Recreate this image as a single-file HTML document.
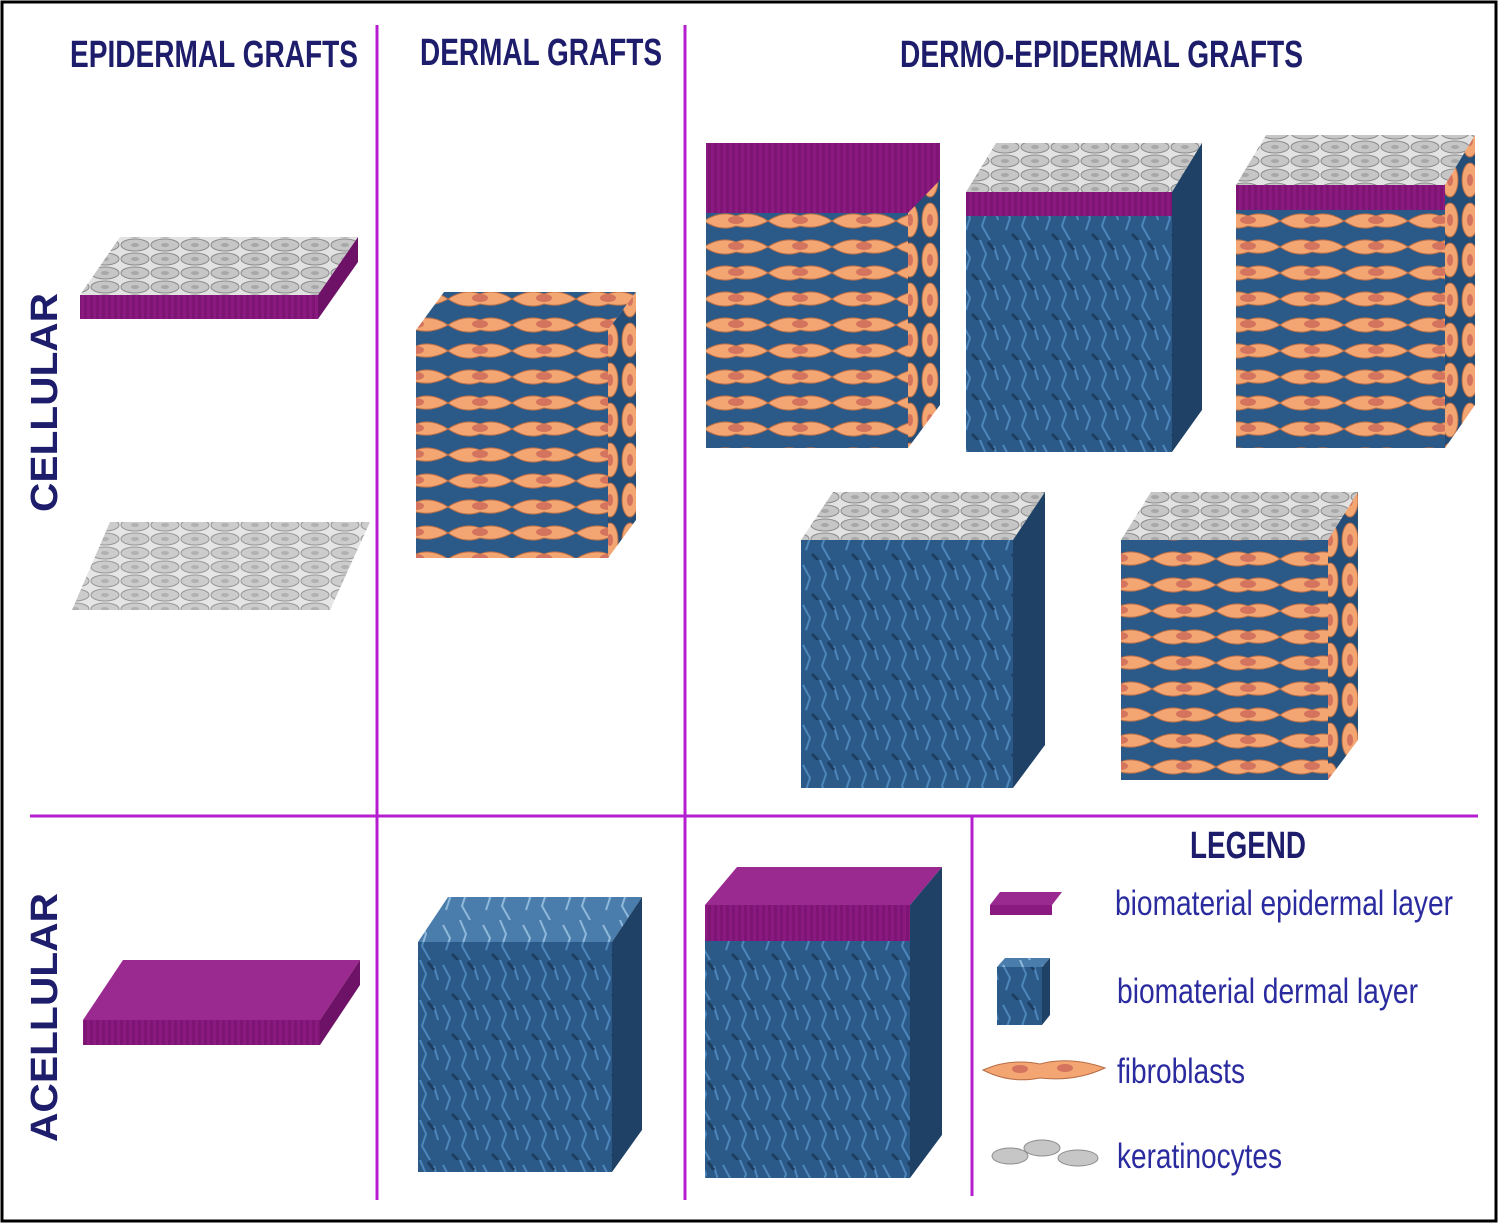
<!DOCTYPE html>
<html><head><meta charset="utf-8"><style>
html,body{margin:0;padding:0;background:#fff}
svg{display:block}
text{font-family:"Liberation Sans",sans-serif}
.t{font-weight:bold;font-size:38px;fill:#1d1d6b}
.l{font-size:35px;fill:#2b2ba0}
</style></head><body>
<svg width="1500" height="1227" viewBox="0 0 1500 1227" xmlns="http://www.w3.org/2000/svg">
<defs>
<pattern id="blue" patternUnits="userSpaceOnUse" width="40" height="40">
<rect width="40" height="40" fill="#2c5a88"/>
<path d="M3 5 L10 18 L6 30 M20 0 L26 14 L22 26 L30 40 M34 6 L38 20" stroke="#4d86bb" stroke-width="2" fill="none"/>
<path d="M12 34 L18 40 M28 2 L34 10" stroke="#1c3d60" stroke-width="3" fill="none"/>
</pattern>
<pattern id="blueL" patternUnits="userSpaceOnUse" width="40" height="40">
<rect width="40" height="40" fill="#4a7dab"/>
<path d="M3 5 L10 18 L6 30 M20 0 L26 14 L22 26 L30 40" stroke="#8fb8da" stroke-width="2" fill="none"/>
</pattern>
<pattern id="fib" patternUnits="userSpaceOnUse" width="64" height="26">
<rect width="64" height="26" fill="#2c5a88"/>
<path d="M0 13 Q16 2 32 8 Q48 2 64 13 Q48 22 32 18 Q16 24 0 13Z" fill="#f3a572" stroke="#b86e48" stroke-width="1"/>
<ellipse cx="32" cy="12" rx="8" ry="4" fill="#d4735e"/>
</pattern>
<pattern id="fibS" patternUnits="userSpaceOnUse" width="20" height="40">
<rect width="20" height="40" fill="#244d77"/>
<ellipse cx="10" cy="20" rx="8" ry="17" fill="#f3a572" stroke="#b86e48"/>
<ellipse cx="10" cy="20" rx="3" ry="6" fill="#d4735e"/>
</pattern>
<pattern id="ker" patternUnits="userSpaceOnUse" width="30" height="14">
<rect width="30" height="14" fill="#e2e2e2"/>
<ellipse cx="15" cy="7" rx="14" ry="6" fill="#c6c6c6" stroke="#8c8c8c" stroke-width="1"/>
<ellipse cx="15" cy="7" rx="4" ry="2" fill="#a8a8a8"/>
</pattern>
<pattern id="purp" patternUnits="userSpaceOnUse" width="6" height="6">
<rect width="6" height="6" fill="#8a1a80"/><rect width="3" height="6" fill="#7e1575"/>
</pattern>
</defs>
<rect x="2" y="2" width="1494" height="1219" fill="#fff" stroke="#000" stroke-width="3"/>
<g stroke="#b41ecf" stroke-width="3">
<line x1="377" y1="25" x2="377" y2="1200"/>
<line x1="685" y1="25" x2="685" y2="1200"/>
<line x1="972" y1="817" x2="972" y2="1196"/>
<line x1="30" y1="816" x2="1478" y2="816"/>
</g>
<text class="t" x="70" y="67" textLength="288" lengthAdjust="spacingAndGlyphs">EPIDERMAL GRAFTS</text>
<text class="t" x="420" y="65" textLength="242" lengthAdjust="spacingAndGlyphs">DERMAL GRAFTS</text>
<text class="t" x="900" y="67" textLength="403" lengthAdjust="spacingAndGlyphs">DERMO-EPIDERMAL GRAFTS</text>
<text class="t" transform="translate(57,512) rotate(-90)" textLength="219" lengthAdjust="spacingAndGlyphs">CELLULAR</text>
<text class="t" transform="translate(57,1142) rotate(-90)" textLength="249" lengthAdjust="spacingAndGlyphs">ACELLULAR</text>

<polygon points="80,295 318,295 358,237 120,237" fill="url(#ker)"/>
<rect x="80" y="295" width="238" height="24" fill="url(#purp)"/>
<polygon points="318,295 358,237 358,262 318,319" fill="#6d1266"/>
<polygon points="72,610 330,610 370,522 110,522" fill="url(#ker)" opacity="0.9"/>

<polygon points="416,330 608,330 636,292 444,292" fill="url(#fib)"/>
<rect x="416" y="330" width="192" height="228" fill="url(#fib)"/>
<polygon points="608,330 636,292 636,520 608,558" fill="url(#fibS)"/>

<rect x="706" y="143" width="234" height="70" fill="url(#purp)"/>
<rect x="706" y="213" width="202" height="235" fill="url(#fib)"/>
<polygon points="908,213 940,180 940,405 908,448" fill="url(#fibS)"/>

<polygon points="966,192 1172,192 1202,143 996,143" fill="url(#ker)"/>
<rect x="966" y="192" width="206" height="24" fill="url(#purp)"/>
<rect x="966" y="216" width="206" height="236" fill="url(#blue)"/>
<polygon points="1172,192 1202,143 1202,410 1172,452" fill="#1f4166"/>

<polygon points="1236,185 1445,185 1475,135 1266,135" fill="url(#ker)"/>
<rect x="1236" y="185" width="209" height="25" fill="url(#purp)"/>
<rect x="1236" y="210" width="209" height="238" fill="url(#fib)"/>
<polygon points="1445,185 1475,135 1475,405 1445,448" fill="url(#fibS)"/>

<polygon points="801,540 1013,540 1045,492 833,492" fill="url(#ker)"/>
<rect x="801" y="540" width="212" height="248" fill="url(#blue)"/>
<polygon points="1013,540 1045,492 1045,745 1013,788" fill="#1f4166"/>

<polygon points="1121,540 1328,540 1358,492 1151,492" fill="url(#ker)"/>
<rect x="1121" y="540" width="207" height="240" fill="url(#fib)"/>
<polygon points="1328,540 1358,492 1358,740 1328,780" fill="url(#fibS)"/>

<polygon points="83,1020 320,1020 360,960 123,960" fill="#9b2a90"/>
<rect x="83" y="1020" width="237" height="25" fill="url(#purp)"/>
<polygon points="320,1020 360,960 360,985 320,1045" fill="#6d1266"/>

<polygon points="418,942 612,942 642,897 448,897" fill="url(#blueL)"/>
<rect x="418" y="942" width="194" height="230" fill="url(#blue)"/>
<polygon points="612,942 642,897 642,1130 612,1172" fill="#1f4166"/>

<polygon points="705,905 910,905 942,867 737,867" fill="#9b2a90"/>
<rect x="705" y="905" width="205" height="36" fill="url(#purp)"/>
<rect x="705" y="941" width="205" height="237" fill="url(#blue)"/>
<polygon points="910,905 942,867 942,1135 910,1178" fill="#1f4166"/>

<text class="t" x="1190" y="858" textLength="116" lengthAdjust="spacingAndGlyphs">LEGEND</text>
<polygon points="990,905 1052,905 1062,892 1000,892" fill="#9b2a90"/>
<rect x="990" y="905" width="62" height="10" fill="#8a1a80"/>
<text class="l" x="1115" y="915" textLength="338" lengthAdjust="spacingAndGlyphs">biomaterial epidermal layer</text>
<rect x="997" y="967" width="45" height="58" fill="url(#blue)"/>
<polygon points="997,967 1042,967 1050,958 1005,958" fill="url(#blueL)"/>
<polygon points="1042,967 1050,958 1050,1015 1042,1025" fill="#1f4166"/>
<text class="l" x="1117" y="1003" textLength="301" lengthAdjust="spacingAndGlyphs">biomaterial dermal layer</text>
<path d="M983 1070 Q1010 1058 1040 1064 Q1070 1056 1105 1068 Q1075 1082 1040 1078 Q1010 1084 983 1070Z" fill="#f3a572" stroke="#b86e48"/>
<ellipse cx="1020" cy="1069" rx="8" ry="4" fill="#d4735e"/><ellipse cx="1065" cy="1068" rx="8" ry="4" fill="#d4735e"/>
<text class="l" x="1117" y="1083" textLength="128" lengthAdjust="spacingAndGlyphs">fibroblasts</text>
<g fill="#c6c6c6" stroke="#8c8c8c">
<ellipse cx="1010" cy="1156" rx="18" ry="8"/><ellipse cx="1042" cy="1148" rx="18" ry="8"/><ellipse cx="1078" cy="1158" rx="20" ry="8"/>
</g>
<text class="l" x="1117" y="1168" textLength="165" lengthAdjust="spacingAndGlyphs">keratinocytes</text>
</svg>
</body></html>
